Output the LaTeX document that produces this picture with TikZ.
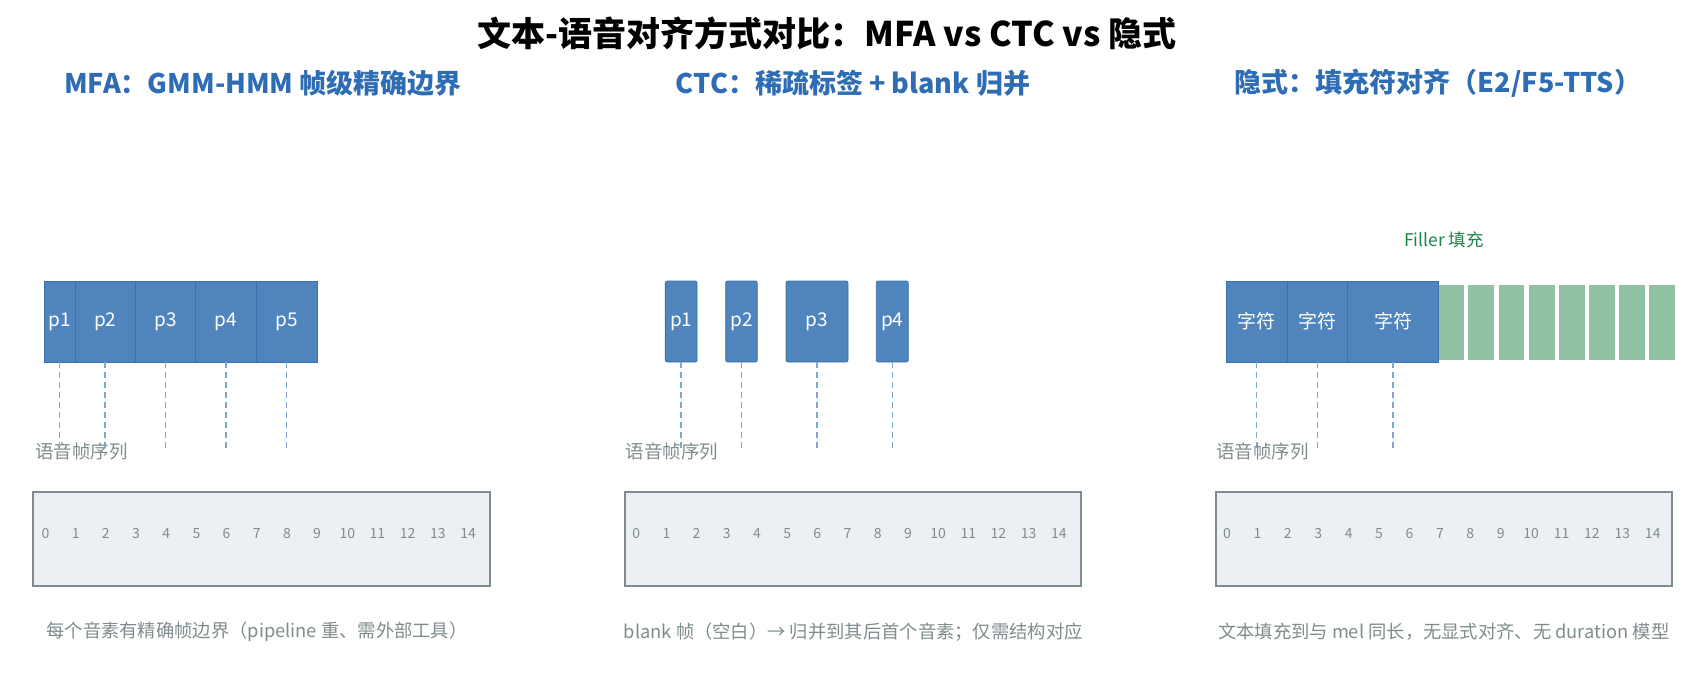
\documentclass[tikz,border=0pt]{standalone}
\usepackage{fontspec}
\setmainfont{Noto Sans CJK SC}
\definecolor{subblue}{HTML}{2E6DB4}
\definecolor{phonefill}{HTML}{4F84BD}
\definecolor{phoneline}{HTML}{3A70AE}
\definecolor{guideblue}{HTML}{7FA7D3}
\definecolor{framefill}{HTML}{ECF0F5}
\definecolor{framegrey}{HTML}{7F8C8D}
\definecolor{fillgreen}{HTML}{8FC1A2}
\definecolor{fillertext}{HTML}{1E8449}
\tikzset{
  phone/.style={draw=phoneline, line width=0.8pt, fill=phonefill, text=white,
    minimum height=81pt, inner sep=0pt, font=\fontsize{19}{22}\selectfont},
  filler/.style={fill=fillgreen, minimum width=25.9pt, minimum height=75pt, inner sep=0pt},
  guide/.style={draw=guideblue, line width=1.5pt, dash pattern=on 6pt off 4pt},
  frames/.style={draw=framegrey, fill=framefill, line width=2pt,
    minimum width=456.7pt, minimum height=94.3pt, inner sep=0pt},
  frameno/.style={text=framegrey, inner sep=0pt, font=\fontsize{14}{16}\selectfont},
  seqlabel/.style={text=framegrey, anchor=west, inner sep=0pt, font=\fontsize{18.5}{21}\selectfont},
  note/.style={text=framegrey, inner sep=0pt, font=\fontsize{18.3}{21}\selectfont},
  subtitle/.style={text=subblue, inner sep=0pt, font=\bfseries\fontsize{27}{31}\selectfont}
}
\begin{document}
\begin{tikzpicture}[x=1pt, y=-1pt]
\useasboundingbox (0,0) rectangle (1706,687);
\node[inner sep=0pt, font=\bfseries\fontsize{34}{40}\selectfont] (title) at (827,33) {文本-语音对齐方式对比：MFA vs CTC vs 隐式};
\node[subtitle] (subA) at (263,83) {MFA：GMM-HMM 帧级精确边界};
\node[subtitle] (subB) at (853,83) {CTC：稀疏标签 + blank 归并};
\node[subtitle] (subC) at (1438,83) {隐式：填充符对齐（E2/F5-TTS）};
% MFA
\node[seqlabel] (seqA) at (35,451) {语音帧序列};
\node[phone, minimum width=30.7pt] (mfa1) at (59.7,321.5) {p1};
\node[phone, minimum width=60.3pt] (mfa2) at (105.2,321.5) {p2};
\node[phone, minimum width=60.4pt] (mfa3) at (165.5,321.5) {p3};
\node[phone, minimum width=60.3pt] (mfa4) at (225.8,321.5) {p4};
\node[phone, minimum width=61pt] (mfa5) at (286.5,321.5) {p5};
\draw[guide] (mfa1.south) -- (mfa1 |- seqA);
\draw[guide] (mfa2.south) -- (mfa2 |- seqA);
\draw[guide] (mfa3.south) -- (mfa3 |- seqA);
\draw[guide] (mfa4.south) -- (mfa4 |- seqA);
\draw[guide] (mfa5.south) -- (mfa5 |- seqA);
\node[frames] (frmA) at (261.7,538.8) {};
\foreach \i in {0,...,14} \node[frameno] (a\i) at ({45.5+30.18*\i},533.3) {\i};
\node[note] (noteA) at (257,631.7) {每个音素有精确帧边界（pipeline 重、需外部工具）};
% CTC
\node[seqlabel] (seqB) at (625.7,451) {语音帧序列};
\node[phone, rounded corners=2pt, minimum width=31.7pt] (ctc1) at (681.2,321.5) {p1};
\node[phone, rounded corners=2pt, minimum width=31.6pt] (ctc2) at (741.5,321.5) {p2};
\node[phone, rounded corners=2pt, minimum width=62pt] (ctc3) at (817,321.5) {p3};
\node[phone, rounded corners=2pt, minimum width=32pt] (ctc4) at (892.3,321.5) {p4};
\draw[guide] (ctc1.south) -- (ctc1 |- seqB);
\draw[guide] (ctc2.south) -- (ctc2 |- seqB);
\draw[guide] (ctc3.south) -- (ctc3 |- seqB);
\draw[guide] (ctc4.south) -- (ctc4 |- seqB);
\node[frames] (frmB) at (853,538.8) {};
\foreach \i in {0,...,14} \node[frameno] (b\i) at ({636.2+30.19*\i},533.3) {\i};
\node[note] (noteB) at (853.3,631.7) {blank 帧（空白）→ 归并到其后首个音素；仅需结构对应};
% implicit
\node[text=fillertext, inner sep=0pt, font=\fontsize{17.5}{20}\selectfont] (fillA) at (1444,239.5) {Filler 填充};
\node[seqlabel] (seqC) at (1215.9,451) {语音帧序列};
\foreach \i in {0,...,7} \node[filler] (f\i) at ({1451.3+30.1*\i},322) {};
\node[phone, minimum width=61.3pt] (chr1) at (1256.7,321.5) {字符};
\node[phone, minimum width=60.4pt] (chr2) at (1317.5,321.5) {字符};
\node[phone, minimum width=90.6pt] (chr3) at (1393,321.5) {字符};
\draw[guide] (chr1.south) -- (chr1 |- seqC);
\draw[guide] (chr2.south) -- (chr2 |- seqC);
\draw[guide] (chr3.south) -- (chr3 |- seqC);
\node[frames] (frmC) at (1444,538.8) {};
\foreach \i in {0,...,14} \node[frameno] (c\i) at ({1227+30.41*\i},533.3) {\i};
\node[note] (noteC) at (1443.8,631.7) {文本填充到与 mel 同长，无显式对齐、无 duration 模型};
\end{tikzpicture}
\end{document}
